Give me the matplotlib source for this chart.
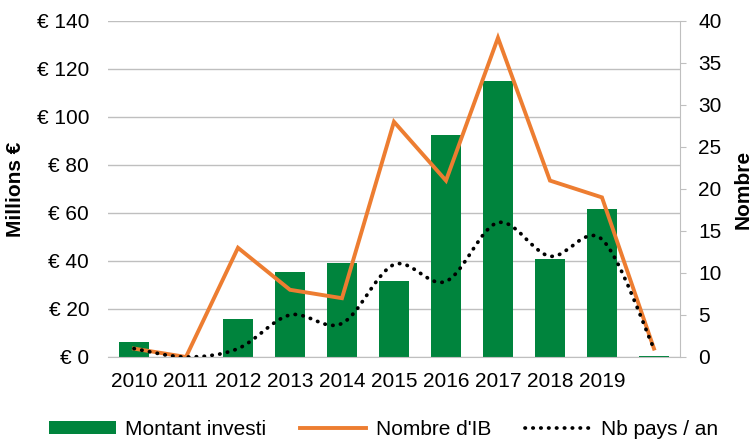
import matplotlib
matplotlib.use("Agg")
import matplotlib.pyplot as plt
from matplotlib.path import Path
from matplotlib.patches import PathPatch, Patch
from matplotlib.lines import Line2D

plt.rcParams['font.family'] = ['Liberation Sans', 'DejaVu Sans']

years = ['2010', '2011', '2012', '2013', '2014', '2015', '2016', '2017', '2018', '2019', '']
montant = [6.2, 0, 15.8, 35.3, 39, 31.7, 92.6, 115.1, 40.8, 61.7, 0.5]
nombre_ib = [1, 0, 13, 8, 7, 28, 21, 38, 21, 19, 1]
nb_pays = [1, 0, 1, 5, 4, 11, 9, 16, 12, 14, 1]

green = '#00843d'
orange = '#ed7d31'
grid_col = '#bfbfbf'
fs = 15


def smooth_path(xs, ys):
    # excel-like smoothed line: catmull-rom segments as cubic beziers
    pts = list(zip(xs, ys))
    verts = [pts[0]]
    codes = [Path.MOVETO]
    n = len(pts)
    for i in range(n - 1):
        p0 = pts[i - 1] if i > 0 else pts[i]
        p1 = pts[i]
        p2 = pts[i + 1]
        p3 = pts[i + 2] if i + 2 < n else pts[i + 1]
        c1 = (p1[0] + (p2[0] - p0[0]) / 6, p1[1] + (p2[1] - p0[1]) / 6)
        c2 = (p2[0] - (p3[0] - p1[0]) / 6, p2[1] - (p3[1] - p1[1]) / 6)
        verts += [c1, c2, p2]
        codes += [Path.CURVE4] * 3
    return Path(verts, codes)


fig = plt.figure(figsize=(7.52, 4.41), dpi=100)
ax = fig.add_axes([0.1436, 0.1905, 0.7606, 0.7619])
x = list(range(len(years)))

ax.bar(x, montant, width=0.56, color=green, zorder=2)
ax.set_xlim(-0.5, len(years) - 0.5)
ax.set_ylim(0, 140)
ax.set_yticks(range(0, 141, 20))
ax.set_yticklabels(['€ %d' % v for v in range(0, 141, 20)])
ax.set_xticks(x)
ax.set_xticklabels(years)
ax.grid(axis='y', color=grid_col, linewidth=1, zorder=0)
ax.set_axisbelow(True)
for s in ['top', 'left', 'right']:
    ax.spines[s].set_visible(False)
ax.spines['bottom'].set_color(grid_col)
ax.tick_params(axis='y', length=0, pad=13.5, labelsize=fs)
ax.tick_params(axis='x', length=0, pad=10.5, labelsize=fs)
ax.set_ylabel('Millions €', fontsize=fs, fontweight='bold')
ax.yaxis.set_label_coords(-0.145, 0.5)

ax2 = ax.twinx()
ax2.set_ylim(0, 40)
ax2.set_yticks(range(0, 41, 5))
for s in ['top', 'left', 'bottom']:
    ax2.spines[s].set_visible(False)
ax2.spines['right'].set_color(grid_col)
ax2.tick_params(axis='y', length=4.5, color=grid_col, pad=8.5, labelsize=fs)
ax2.set_ylabel('Nombre', fontsize=fs, fontweight='bold')
ax2.yaxis.set_label_coords(1.094, 0.5)

ax2.plot(x, nombre_ib, color=orange, linewidth=2.8, solid_joinstyle='miter', zorder=3)
dots = PathPatch(smooth_path(x, nb_pays), fill=False, edgecolor='black',
                 linewidth=2.7, linestyle=(0, (0.1, 2.0)), capstyle='round', zorder=4)
ax2.add_patch(dots)

handles = [Patch(facecolor=green, label='Montant investi'),
           Line2D([], [], color=orange, linewidth=2.8, label="Nombre d'IB"),
           Line2D([], [], color='black', linewidth=2.7, linestyle=(0, (0.1, 2.0)),
                  dash_capstyle='round', label='Nb pays / an')]
fig.legend(handles=handles, loc='center', bbox_to_anchor=(0.51, 0.026), ncol=3,
           frameon=False, fontsize=fs, handlelength=3.2, handleheight=0.55,
           handletextpad=0.45, columnspacing=1.6, borderpad=0)

fig.savefig('out.png', dpi=100)
